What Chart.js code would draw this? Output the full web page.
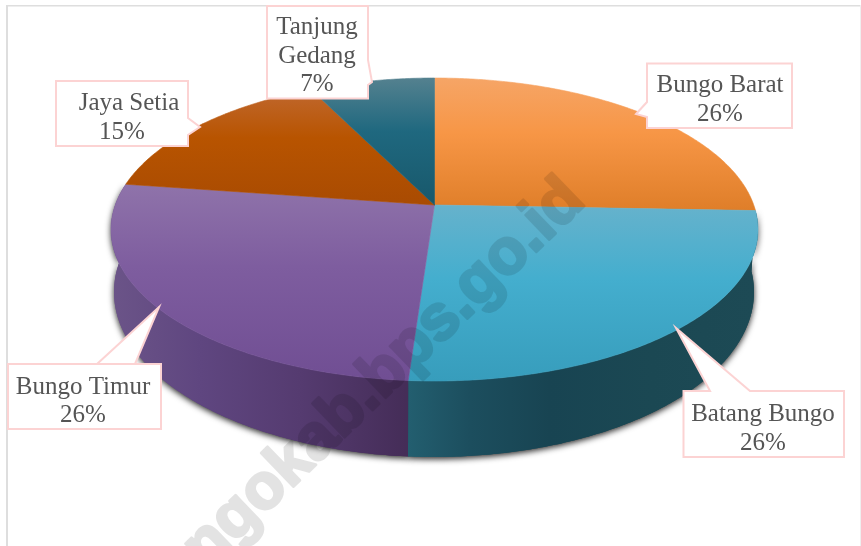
<!DOCTYPE html>
<html>
<head>
<meta charset="utf-8">
<style>
  html, body { margin: 0; padding: 0; background: #fff; }
  canvas { display: block; }
</style>
<script src="https://cdn.jsdelivr.net/npm/chart.js@4/dist/chart.umd.min.js"></script>
</head>
<body>
<canvas id="pie3d" width="861" height="546"></canvas>
<script>
// donnees
var categories = ['Bungo Barat', 'Batang Bungo', 'Bungo Timur', 'Jaya Setia', 'Tanjung Gedang'];
var shares = [25.6, 25.5, 26.2, 15.4, 7.3];

// couleurs du dessus : clair, base, fonce
var topColors = [
  ['#f6a566', '#f79646', '#df7e29'],
  ['#66b2cc', '#44aece', '#379dbc'],
  ['#8f73aa', '#7e5d9f', '#704e93'],
  ['#c0682f', '#b85400', '#a94b02'],
  ['#54818f', '#1f687f', '#18586b']
];
var sideColors = [
  null,
  [[405, '#235f70'], [470, '#1c4e5e'], [550, '#184452'], [650, '#1b4853'], [755, '#1d4a55']],
  [[112, '#6b5488'], [200, '#5f4680'], [300, '#553b70'], [406, '#452d58']],
  null,
  null
];

// les deux ellipses du disque, en perspective
var topFace = { cx: 434.5, cy: 229.5, rx: 323.5, ry: 151.5 };
var bottomFace = { cx: 434, cy: 292, rx: 320, ry: 165 };
var tilt = -24.5 / 151.5;

// cadres des etiquettes
var callouts = [
  { box: [647, 63.5, 792, 128], tip: [[647, 102], [636, 114], [647, 117]], side: 'left', textX: [720, 720], textY: [85, 114] },
  { box: [683.5, 391, 844, 457], tip: [[750, 391], [676, 328], [710, 391]], side: 'top', textX: [763, 763], textY: [414, 443] },
  { box: [8, 364, 161, 429], tip: [[97, 364], [159, 307], [135, 364]], side: 'top', textX: [83, 83], textY: [387, 415] },
  { box: [56, 81, 188, 146], tip: [[188, 118], [200, 127], [188, 135]], side: 'right', textX: [129, 122], textY: [103, 132] },
  { box: [267, 6, 368, 98.5], tip: [[368, 60], [372, 82], [368, 85]], side: 'right', textX: [317, 317, 317], textY: [27, 56, 84], wrap: true }
];

function project(angle, face) {
  var u = Math.sin(angle), v = -Math.cos(angle);
  var d = 1 + tilt * v;
  return {
    x: face.cx + face.rx * Math.sqrt(1 - tilt * tilt) * u / d,
    y: face.cy + face.ry * (v + tilt) / d
  };
}

function sliceAngles(arc) {
  return [arc.startAngle + Math.PI / 2, arc.endAngle + Math.PI / 2];
}

function outline(a0, a1, face) {
  var pts = [], n = Math.max(2, Math.ceil((a1 - a0) / 0.01));
  for (var i = 0; i <= n; i++) {
    pts.push(project(a0 + (a1 - a0) * i / n, face));
  }
  return pts;
}

function tracePath(ctx, pts) {
  ctx.beginPath();
  pts.forEach(function (p, i) {
    if (i === 0) ctx.moveTo(p.x, p.y); else ctx.lineTo(p.x, p.y);
  });
  ctx.closePath();
}

function fillWall(ctx, arc, i) {
  var a = sliceAngles(arc);
  var pts = outline(a[0], a[1], topFace).concat(outline(a[0], a[1], bottomFace).reverse());
  var stops = sideColors[i];
  var x0 = stops[0][0], x1 = stops[stops.length - 1][0];
  var grad = ctx.createLinearGradient(x0, 0, x1, 0);
  stops.forEach(function (s) { grad.addColorStop((s[0] - x0) / (x1 - x0), s[1]); });
  tracePath(ctx, pts);
  ctx.fillStyle = grad;
  ctx.fill();
}

function drawWalls(ctx, arcs) {
  // ombre portee sous le mur
  ctx.save();
  ctx.shadowColor = 'rgba(0,0,0,0.85)';
  ctx.shadowBlur = 6;
  ctx.shadowOffsetY = 2;
  arcs.forEach(function (arc, i) {
    if (sideColors[i]) fillWall(ctx, arc, i);
  });
  ctx.restore();
  // on repeint sans ombre pour effacer la jointure
  arcs.forEach(function (arc, i) {
    if (sideColors[i]) fillWall(ctx, arc, i);
  });
}

function drawTop(ctx, arcs) {
  var apex = { x: topFace.cx, y: topFace.cy + topFace.ry * tilt };
  arcs.forEach(function (arc, i) {
    var a = sliceAngles(arc);
    var pts = [apex].concat(outline(a[0], a[1], topFace));
    var ys = pts.map(function (p) { return p.y; });
    var grad = ctx.createLinearGradient(0, Math.min.apply(null, ys), 0, Math.max.apply(null, ys));
    grad.addColorStop(0, topColors[i][0]);
    grad.addColorStop(0.42, topColors[i][1]);
    grad.addColorStop(1, topColors[i][2]);
    tracePath(ctx, pts);
    ctx.fillStyle = grad;
    ctx.fill();
    ctx.strokeStyle = grad;
    ctx.lineWidth = 0.6;
    ctx.stroke();
  });
}

function drawCallouts(ctx, values) {
  callouts.forEach(function (c, i) {
    var b = c.box;
    var t = c.tip;
    ctx.beginPath();
    ctx.moveTo(b[0], b[1]);
    if (c.side === 'top') { t.slice().reverse().forEach(function (p) { ctx.lineTo(p[0], p[1]); }); }
    ctx.lineTo(b[2], b[1]);
    if (c.side === 'right') { t.forEach(function (p) { ctx.lineTo(p[0], p[1]); }); }
    ctx.lineTo(b[2], b[3]);
    ctx.lineTo(b[0], b[3]);
    if (c.side === 'left') { t.slice().reverse().forEach(function (p) { ctx.lineTo(p[0], p[1]); }); }
    ctx.closePath();
    ctx.fillStyle = '#ffffff';
    ctx.fill();
    ctx.strokeStyle = '#fcd3d3';
    ctx.lineWidth = 2;
    ctx.stroke();

    var lines = c.wrap ? categories[i].split(' ') : [categories[i]];
    lines = lines.concat(Math.round(values[i]) + '%');
    ctx.fillStyle = '#555555';
    ctx.font = '25px "Liberation Serif"';
    ctx.textAlign = 'center';
    ctx.textBaseline = 'middle';
    lines.forEach(function (line, k) {
      ctx.fillText(line, c.textX[k], c.textY[k]);
    });
  });
}

function drawWatermark(ctx, w, h) {
  // calque a part : le contour epaissit les lettres sans doubler l'opacite
  var layer = document.createElement('canvas');
  layer.width = w;
  layer.height = h;
  var l = layer.getContext('2d');
  l.translate(587, 203);
  l.rotate(-44 * Math.PI / 180);
  l.font = 'bold 64px "Liberation Sans"';
  l.textAlign = 'right';
  l.textBaseline = 'alphabetic';
  l.fillStyle = '#000000';
  l.strokeStyle = '#000000';
  l.lineWidth = 3;
  l.lineJoin = 'round';
  l.strokeText('bungokab.bps.go.id', 0, 0);
  l.fillText('bungokab.bps.go.id', 0, 0);
  ctx.save();
  ctx.globalAlpha = 0.105;
  ctx.drawImage(layer, 0, 0);
  ctx.restore();
}

var pie3dPlugin = {
  id: 'pie3d',
  beforeDraw: function (chart) {
    var ctx = chart.ctx;
    ctx.save();
    ctx.fillStyle = '#ffffff';
    ctx.fillRect(0, 0, chart.width, chart.height);
    // cadre gris
    ctx.fillStyle = '#dedede';
    ctx.fillRect(6, 5, 2, 541);
    ctx.fillRect(6, 5, 855, 1.5);
    ctx.fillStyle = '#efefef';
    ctx.fillRect(860, 5, 1, 541);
    ctx.restore();
  },
  // on remplace le dessin des arcs, les angles restent ceux calcules par Chart.js
  beforeDatasetDraw: function (chart, args) {
    var ctx = chart.ctx;
    var arcs = args.meta.data;
    ctx.save();
    drawWalls(ctx, arcs);
    drawTop(ctx, arcs);
    drawCallouts(ctx, chart.data.datasets[0].data);
    drawWatermark(ctx, chart.width, chart.height);
    ctx.restore();
    return false;
  }
};

var canvas = document.getElementById('pie3d');
var pieChart = new Chart(canvas, {
  type: 'pie',
  data: {
    labels: categories,
    datasets: [{
      data: shares,
      backgroundColor: topColors.map(function (c) { return c[1]; }),
      borderWidth: 0
    }]
  },
  options: {
    responsive: false,
    animation: false,
    events: [],
    plugins: {
      legend: { display: false },
      tooltip: { enabled: false }
    }
  },
  plugins: [pie3dPlugin]
});
</script>
</body>
</html>
